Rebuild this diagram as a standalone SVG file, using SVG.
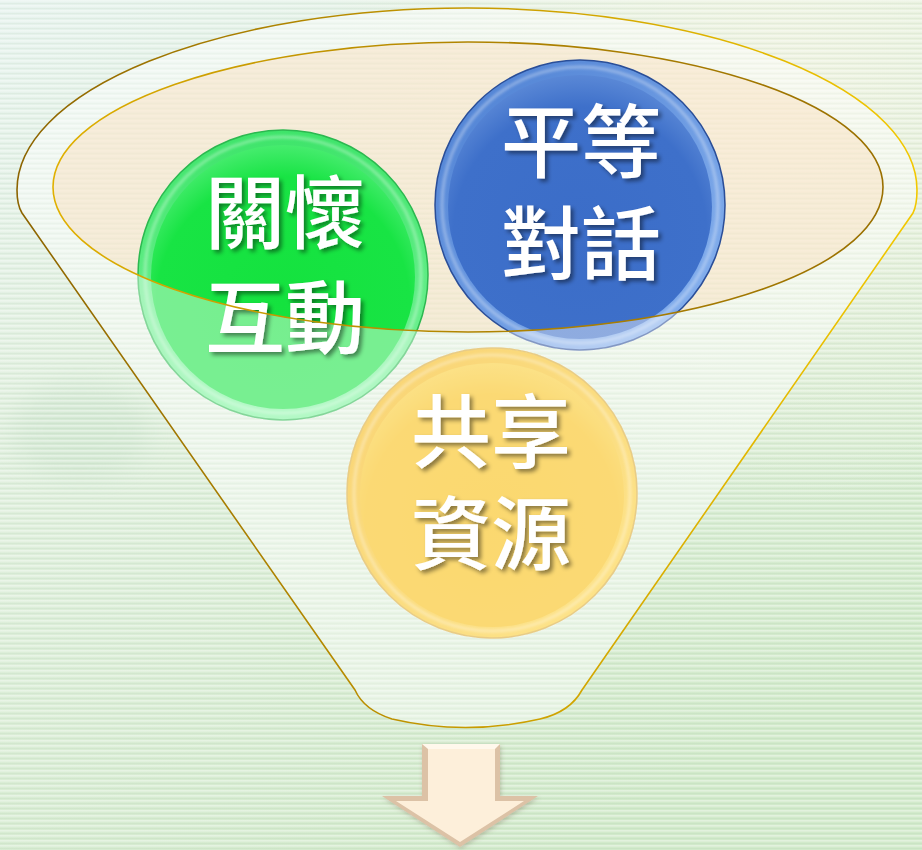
<svg xmlns="http://www.w3.org/2000/svg" width="922" height="850" viewBox="0 0 922 850">
<defs>
<linearGradient id="bgG" x1="0" y1="0" x2="0.6" y2="1">
<stop offset="0" stop-color="#e8f3ef"/>
<stop offset="0.35" stop-color="#e2f0e0"/>
<stop offset="1" stop-color="#d2eacb"/>
</linearGradient>
<radialGradient id="bgR" cx="0.85" cy="0.1" r="0.5">
<stop offset="0" stop-color="#f4f4e4" stop-opacity="0.8"/>
<stop offset="1" stop-color="#f4f4e4" stop-opacity="0"/>
</radialGradient>
<pattern id="stripes" width="9" height="5" patternUnits="userSpaceOnUse">
<rect x="0" y="0" width="9" height="1.6" fill="#ffffff" opacity="0.35"/>
<rect x="0" y="3" width="9" height="1.2" fill="#6a9a60" opacity="0.07"/>
</pattern>
<linearGradient id="rimStroke" x1="17" y1="0" x2="917" y2="0" gradientUnits="userSpaceOnUse">
<stop offset="0" stop-color="#8c6400"/>
<stop offset="0.5" stop-color="#c79a00"/>
<stop offset="1" stop-color="#f2c800"/>
</linearGradient>
<linearGradient id="innerStroke" x1="53" y1="0" x2="883" y2="0" gradientUnits="userSpaceOnUse">
<stop offset="0" stop-color="#e0b000"/>
<stop offset="0.5" stop-color="#b08400"/>
<stop offset="1" stop-color="#9a7000"/>
</linearGradient>
<clipPath id="washClip">
<path clip-rule="evenodd" d="M17,190 A450,182 0 0 1 917,190 Q917,205 913,213 L582,690 Q570,712 540,719 Q465,736 392,719 Q364,710 355,690 L22,213 Q17,205 17,190 Z M53,187 A415,145 0 1 0 883,187 A415,145 0 1 0 53,187 Z"/>
</clipPath>
<linearGradient id="gBand" x1="0" y1="0" x2="0" y2="1">
<stop offset="0" stop-color="#3ee46a"/>
<stop offset="1" stop-color="#7cf49c"/>
</linearGradient>
<radialGradient id="gCore" cx="0.5" cy="0.6" r="0.6">
<stop offset="0" stop-color="#14e23e"/>
<stop offset="0.8" stop-color="#18e444"/>
<stop offset="1" stop-color="#46ec6e"/>
</radialGradient>
<linearGradient id="bBand" x1="0" y1="0" x2="1" y2="1">
<stop offset="0" stop-color="#4c7fd2"/>
<stop offset="1" stop-color="#8ab4f0"/>
</linearGradient>
<radialGradient id="bCore" cx="0.5" cy="0.6" r="0.6">
<stop offset="0" stop-color="#3b6dc8"/>
<stop offset="0.8" stop-color="#3e70ca"/>
<stop offset="1" stop-color="#5a88d6"/>
</radialGradient>
<linearGradient id="yBand" x1="0" y1="0" x2="1" y2="1">
<stop offset="0" stop-color="#f4b410"/>
<stop offset="1" stop-color="#fcd238"/>
</linearGradient>
<radialGradient id="yCore" cx="0.5" cy="0.6" r="0.6">
<stop offset="0" stop-color="#f8bc08"/>
<stop offset="0.8" stop-color="#f8be10"/>
<stop offset="1" stop-color="#facc30"/>
</radialGradient>
<filter id="txtShadow" x="-20%" y="-20%" width="140%" height="140%">
<feDropShadow dx="3" dy="3" stdDeviation="2" flood-color="#000000" flood-opacity="0.45"/>
</filter>
<filter id="soft" x="-10%" y="-10%" width="120%" height="120%">
<feGaussianBlur stdDeviation="1.5"/>
</filter>
<filter id="blur8" x="-50%" y="-50%" width="200%" height="200%">
<feGaussianBlur stdDeviation="12"/>
</filter>
<filter id="arrowShadow" x="-20%" y="-20%" width="140%" height="140%">
<feDropShadow dx="1" dy="2" stdDeviation="2" flood-color="#6a5a40" flood-opacity="0.3"/>
</filter>
<style>
.lbl{font-family:"Noto Sans CJK TC","Noto Sans CJK SC",sans-serif;font-size:80px;font-weight:500;fill:#ffffff;text-anchor:middle;filter:url(#txtShadow)}
.wash{fill:#ffffff;opacity:0.42;clip-path:url(#washClip)}
.edge{fill:none;stroke-width:1.6}
.ring{fill:none;stroke:#ffffff;stroke-width:3;opacity:0.35;filter:url(#soft)}
</style>
</defs>

<g id="background">
<rect width="922" height="850" fill="url(#bgG)"/>
<rect width="922" height="850" fill="url(#bgR)"/>
<ellipse cx="80" cy="430" rx="70" ry="50" fill="#a8d0b0" opacity="0.18" filter="url(#blur8)"/>
<rect width="922" height="850" fill="url(#stripes)"/>
</g>

<g id="funnel-body">
<path d="M17,190 A450,182 0 0 1 917,190 Q917,205 913,213 L582,690 Q570,712 540,719 Q465,736 392,719 Q364,710 355,690 L22,213 Q17,205 17,190 Z" fill="#ffffff" opacity="0.42"/>
<ellipse cx="468" cy="187" rx="415" ry="145" fill="#fadcb4" opacity="0.42"/>
</g>

<g id="node-care">
<circle cx="283" cy="275" r="145" fill="url(#gBand)" stroke="#2cb850" stroke-width="1.5"/>
<circle cx="283" cy="277" r="132" fill="url(#gCore)"/>
<circle cx="283" cy="275" r="138" class="ring"/>
<circle cx="283" cy="275" r="146" class="wash"/>
<text class="lbl"><tspan x="285" y="242">關懷</tspan><tspan x="285" y="347">互動</tspan></text>
</g>

<g id="node-dialogue">
<circle cx="580" cy="205" r="145" fill="url(#bBand)" stroke="#2a4e98" stroke-width="1.5"/>
<circle cx="580" cy="207" r="132" fill="url(#bCore)"/>
<circle cx="580" cy="205" r="138" class="ring"/>
<circle cx="580" cy="205" r="146" class="wash"/>
<text class="lbl"><tspan x="581" y="171">平等</tspan><tspan x="581" y="273">對話</tspan></text>
</g>

<g id="node-share">
<circle cx="492" cy="493" r="145" fill="url(#yBand)" stroke="#d8a830" stroke-width="1.5"/>
<circle cx="492" cy="495" r="132" fill="url(#yCore)"/>
<circle cx="492" cy="493" r="138" class="ring"/>
<circle cx="492" cy="493" r="146" class="wash"/>
<text class="lbl"><tspan x="491" y="461">共享</tspan><tspan x="491" y="563">資源</tspan></text>
</g>

<g id="funnel-outline">
<path class="edge" stroke="url(#rimStroke)" d="M17,190 A450,182 0 0 1 917,190 Q917,205 913,213 L582,690 Q570,712 540,719 Q465,736 392,719 Q364,710 355,690 L22,213 Q17,205 17,190 Z"/>
<ellipse class="edge" stroke="url(#innerStroke)" cx="468" cy="187" rx="415" ry="145"/>
</g>

<g id="connectors">
<g id="arrow" filter="url(#arrowShadow)">
<path d="M422,744 L500,744 L500,796 L538,796 L460,847 L382,796 L422,796 Z" fill="#dcc2a6"/>
<path d="M428,749 L495,749 L495,801 L524,801 L460,842 L396,801 L428,801 Z" fill="#fdefda"/>
<path d="M422,744 L500,744 L495,749 L428,749 Z" fill="#fff8ec"/>
</g>
</g>
</svg>
